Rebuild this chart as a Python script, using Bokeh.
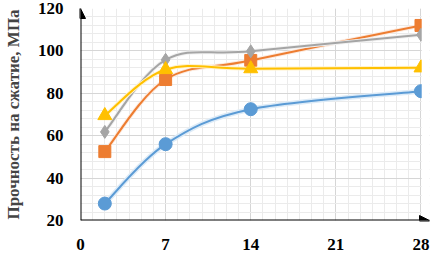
import numpy as np
from bokeh.plotting import figure
from bokeh.models import Range1d, SingleIntervalTicker, Arrow, NormalHead, BoxAnnotation
from bokeh.embed import file_html
from bokeh.resources import INLINE

# ---- data ----
days = [2, 7, 14, 28]
blue_vals = [28.0, 56.0, 72.5, 81.0]
orange_vals = [52.5, 86.5, 95.5, 112.0]
gray_vals = [61.8, 95.8, 99.8, 107.6]
yellow_vals = [69.5, 91.2, 91.6, 92.0]
y_title = "Прочность на сжатие, МПа"

FONT = "Liberation Serif"

p = figure(width=430, height=252, output_backend="svg", toolbar_location=None,
           x_range=Range1d(0, 28.7), y_range=Range1d(20, 120),
           min_border_left=75, min_border_right=1, min_border_top=8, min_border_bottom=32)
p.outline_line_color = None
p.background_fill_color = "white"
p.border_fill_color = "white"

p.xaxis.ticker = SingleIntervalTicker(interval=7, num_minor_ticks=7)
p.yaxis.ticker = SingleIntervalTicker(interval=20, num_minor_ticks=5)
for ax in (p.xaxis, p.yaxis):
    ax.axis_line_color = None
    ax.major_tick_line_color = None
    ax.minor_tick_line_color = None
    ax.major_tick_out = 0
    ax.major_label_text_font = FONT
    ax.major_label_text_font_style = "bold"
    ax.major_label_text_font_size = "17px"
    ax.major_label_text_color = "black"
    ax.major_label_text_line_height = 1.0
p.xaxis.major_label_standoff = 14
p.yaxis.major_label_standoff = 13
p.yaxis.axis_label = y_title
p.yaxis.axis_label_text_font = FONT
p.yaxis.axis_label_text_font_style = "bold"
p.yaxis.axis_label_text_font_size = "17px"
p.yaxis.axis_label_text_line_height = 1.0
p.yaxis.axis_label_standoff = 12

for g in (p.xgrid, p.ygrid):
    g.grid_line_color = "#D6D6D6"
    g.grid_line_width = 1
    g.minor_grid_line_color = "#EBEBEB"
    g.minor_grid_line_width = 1

# mask grid overhang beyond last day
mask = BoxAnnotation(left=28.06, fill_color="white", fill_alpha=1.0, line_color=None, level="glyph")
p.add_layout(mask)


def smooth(xs, ys):
    x = np.asarray(xs, float)
    y = np.asarray(ys, float)
    n = len(x)
    xp = np.concatenate([[x[0]], x, [x[-1]]])
    yp = np.concatenate([[y[0]], y, [y[-1]]])
    cx0 = x[:-1] + (xp[2:n + 1] - xp[0:n - 1]) / 6
    cy0 = y[:-1] + (yp[2:n + 1] - yp[0:n - 1]) / 6
    cx1 = x[1:] - (xp[3:n + 2] - xp[1:n]) / 6
    cy1 = y[1:] - (yp[3:n + 2] - yp[1:n]) / 6
    return dict(x0=x[:-1], y0=y[:-1], x1=x[1:], y1=y[1:], cx0=cx0, cy0=cy0, cx1=cx1, cy1=cy1)


series = [
    (blue_vals, "#5B9BD5", "circle", 13, "#DDEBF7", 5),
    (orange_vals, "#ED7D31", "square", 12, "#FCEADF", 4),
    (gray_vals, "#A5A5A5", "diamond", 13, "#F1F1F1", 4),
    (yellow_vals, "#FFC000", "triangle", 14, "#FFF3CF", 4),
]

for vals, col, mk, sz, halo, hw in series:
    d = smooth(days, vals)
    p.bezier(**d, line_color=halo, line_width=hw)
    p.bezier(**d, line_color=col, line_width=2)
    p.scatter(days, vals, marker=mk, size=sz, fill_color=col, line_color=col)

head_y = NormalHead(size=10, fill_color="black", line_color="black")
head_x = NormalHead(size=10, fill_color="black", line_color="black")
p.add_layout(Arrow(end=head_y, x_start=0, y_start=20, x_end=0, y_end=120,
                   line_color="black", line_width=2))
p.add_layout(Arrow(end=head_x, x_start=0, y_start=20, x_end=28.7, y_end=20,
                   line_color="black", line_width=2))

open("out.html", "w").write(file_html(p, INLINE))
